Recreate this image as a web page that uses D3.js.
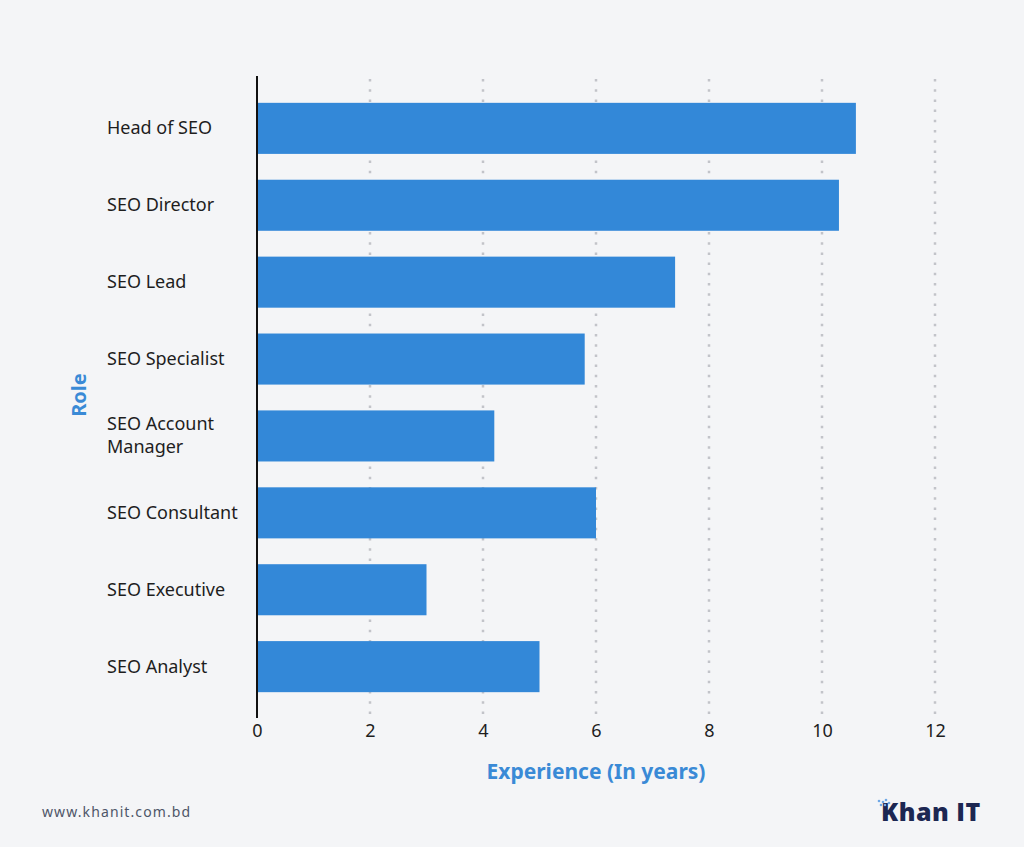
<!DOCTYPE html>
<html><head><meta charset="utf-8">
<script src="https://cdn.jsdelivr.net/npm/d3@7"></script>
<style>
html,body{margin:0;padding:0;background:#f4f5f7;}
svg{display:block;}
</style></head>
<body>
<script>
const categories = ["Head of SEO","SEO Director","SEO Lead","SEO Specialist","SEO Account Manager","SEO Consultant","SEO Executive","SEO Analyst"];
const values = [10.6, 10.3, 7.4, 5.8, 4.2, 6.0, 3.0, 5.0];
const xTicks = [0,2,4,6,8,10,12];
const xTitle = "Experience (In years)";
const yTitle = "Role";
const footerText = "www.khanit.com.bd";
const brandText = "Khan IT";

const W = 1024, H = 847;
const m = {left:257, right:89, top:77, bottom:129};
const svg = d3.select("body").append("svg").attr("width",W).attr("height",H);
svg.append("rect").attr("width",W).attr("height",H).attr("fill","#f4f5f7");

const x = d3.scaleLinear().domain([0,12]).range([m.left, W-m.right]);
const y = d3.scaleBand().domain(categories).range([m.top, H-m.bottom]).padding(0.336);

const font = "'Noto Sans', Roboto, sans-serif";

// gridlines
svg.append("g").selectAll("line").data(xTicks.filter(d=>d>0)).join("line")
  .attr("x1",d=>x(d)).attr("x2",d=>x(d))
  .attr("y1",m.top+2).attr("y2",H-m.bottom)
  .attr("stroke","#c2c4c9").attr("stroke-width",2.5)
  .attr("stroke-dasharray","2.5,7.7").attr("stroke-linecap","butt");

// bars
svg.append("g").selectAll("rect").data(values).join("rect")
  .attr("x",x(0)).attr("y",(d,i)=>y(categories[i]))
  .attr("width",d=>x(d)-x(0)).attr("height",y.bandwidth())
  .attr("fill","#3388d8");

// y axis line
svg.append("line").attr("x1",x(0)).attr("x2",x(0)).attr("y1",m.top-1).attr("y2",H-m.bottom)
  .attr("stroke","#111").attr("stroke-width",2);

// x tick labels via axis
const xAxis = svg.append("g").attr("transform",`translate(0,${H-m.bottom})`)
  .call(d3.axisBottom(x).tickValues(xTicks).tickSize(0).tickPadding(6).tickFormat(d3.format("d")));
xAxis.select(".domain").remove();
xAxis.selectAll("text").attr("font-family",font).attr("font-size",18).attr("fill","#1e1e1e");

// y category labels (left aligned, wrapped)
const wrapMap = {"SEO Account Manager":["SEO Account","Manager"]};
const yl = svg.append("g");
categories.forEach(c=>{
  const lines = wrapMap[c] || [c];
  const cy = y(c)+y.bandwidth()/2;
  const t = yl.append("text").attr("x",107).attr("font-family",font).attr("font-size",18).attr("fill","#1e1e1e");
  lines.forEach((ln,i)=>{
    t.append("tspan").attr("x",107).attr("y",cy + 6 + (i-(lines.length-1)/2)*23).text(ln);
  });
});

// axis titles
svg.append("text").attr("x",(x(0)+x(12))/2).attr("y",779).attr("text-anchor","middle")
  .attr("font-family",font).attr("font-size",21).attr("font-weight","bold").attr("fill","#3a8ad6").text(xTitle);
svg.append("text").attr("transform","translate(86,395) rotate(-90)").attr("text-anchor","middle")
  .attr("font-family",font).attr("font-size",20).attr("font-weight","bold").attr("fill","#3a8ad6").text(yTitle);

// footer
svg.append("text").attr("x",42).attr("y",817).attr("font-family",font).attr("font-size",14)
  .attr("letter-spacing","1.1").attr("fill","#4e5668").text(footerText);

// brand
const b = svg.append("g");
b.append("text").attr("x",881).attr("y",821).attr("font-family","'Open Sans', 'Noto Sans', sans-serif")
  .attr("font-size",25).attr("font-weight","800").attr("fill","#1c2752").attr("letter-spacing","0.5").text(brandText);
const dots = [[879,801],[883,802],[881,805],[886,800],[885,805],[889,803]];
b.selectAll("circle").data(dots).join("circle").attr("cx",d=>d[0]).attr("cy",d=>d[1]).attr("r",1.3).attr("fill","#6fa8e6");
</script>
</body></html>
